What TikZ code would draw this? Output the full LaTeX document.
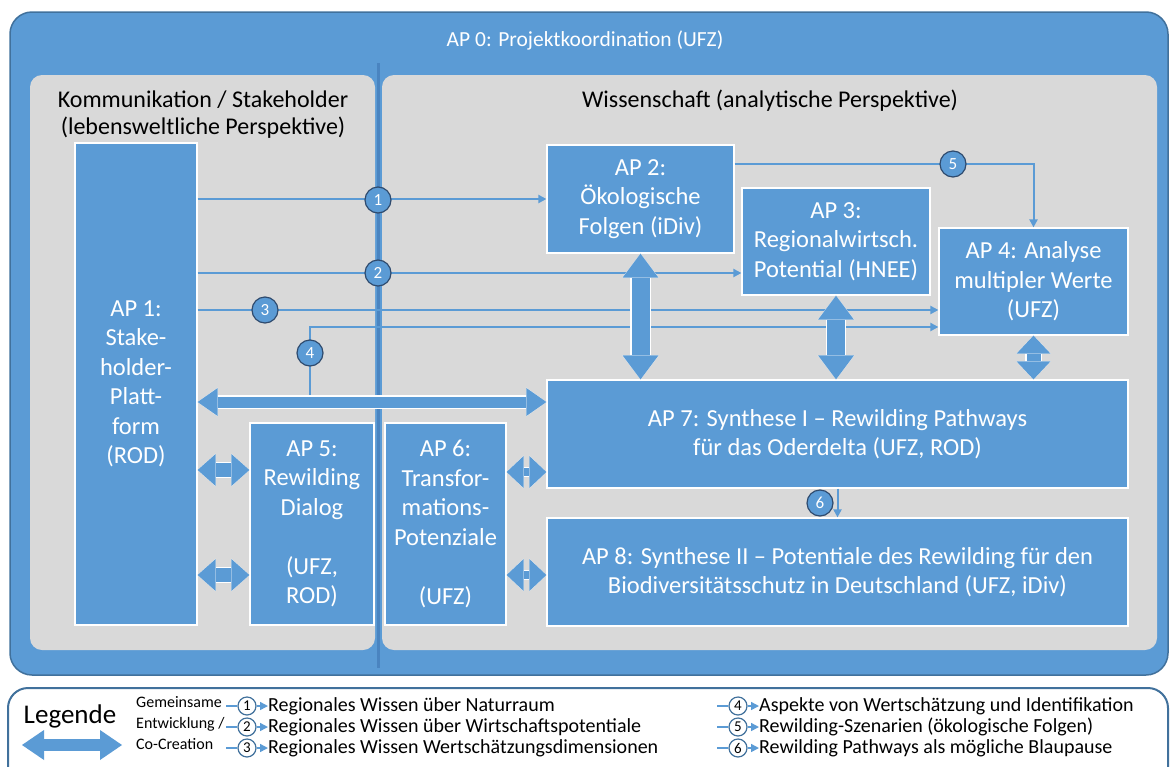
\documentclass[tikz,border=0pt]{standalone}
\usepackage{fontspec}
\setmainfont{Carlito}
\usetikzlibrary{arrows.meta,calc,positioning}

\definecolor{apblue}{HTML}{5B9BD5}
\definecolor{apedge}{HTML}{41719C}
\definecolor{panelgray}{HTML}{D9D9D9}
\definecolor{divline}{HTML}{4A84C0}
\definecolor{ringnavy}{HTML}{2F4B6E}

\tikzset{
	apbox/.style={fill=apblue, draw=white, line width=1.2pt, text=white, align=center, inner sep=0pt, font=\fontsize{24.5}{29.5}\selectfont},
	headtext/.style={align=center, font=\fontsize{24}{27}\selectfont},
	flow/.style={draw=apblue, line width=2pt, -{Triangle[width=8pt,length=8pt]}},
	numring/.style={circle, fill=apblue, draw=ringnavy, line width=1.2pt, minimum size=26pt, inner sep=0pt, text=white, font=\fontsize{17}{17}\selectfont},
	legring/.style={circle, fill=white, draw=apedge, line width=1.2pt, minimum size=18pt, inner sep=0pt, font=\fontsize{15}{15}\selectfont},
	legtext/.style={anchor=west, inner sep=0pt, font=\fontsize{20}{20}\selectfont},
	cocreate/.style n args={3}{draw=apblue, line width=#1pt,
		{Triangle[width=#2pt,length=#3pt,line width=0pt]}-{Triangle[width=#2pt,length=#3pt,line width=0pt]},
		preaction={draw=white, line width=#1pt+2.4pt,
			{Triangle[width=#2pt,length=#3pt,line width=2.4pt,fill=white]}-{Triangle[width=#2pt,length=#3pt,line width=2.4pt,fill=white]}}}
}

\begin{document}
\begin{tikzpicture}[x=1pt, y=-1pt]
	\useasboundingbox (0,0) rectangle (1170,766);
	% frame and panels
	\fill[apblue, draw=apedge, line width=1.5pt, rounded corners=22pt] (10,12) rectangle (1168,675);
	\node[text=white, font=\fontsize{21.5}{21.5}\selectfont] (ap0) at (585,40) {AP 0: Projektkoordination (UFZ)};
	\fill[panelgray, rounded corners=12pt] (30,75) rectangle (375,650);
	\fill[panelgray, rounded corners=12pt] (382,75) rectangle (1157,650);
	\draw[divline, line width=3pt] (378,63) -- (378,668);
	\node[headtext] (komm) at (203,114.5) {Kommunikation / Stakeholder\\(lebensweltliche Perspektive)};
	\node[headtext] (wiss) at (770,101) {Wissenschaft (analytische Perspektive)};
	%%%%% work packages
	\node[apbox, minimum width=122pt, minimum height=482pt] (ap1) at (136,384) {AP 1:\\Stake-\\holder-\\Platt-\\form\\(ROD)};
	\node[apbox, minimum width=187pt, minimum height=108pt] (ap2) at (640.5,199) {AP 2:\\Ökologische\\Folgen (iDiv)};
	\node[apbox, minimum width=188pt, minimum height=107pt] (ap3) at (836,241.5) {AP 3:\\Regionalwirtsch.\\Potential (HNEE)};
	\node[apbox, minimum width=189pt, minimum height=107pt] (ap4) at (1033.5,281.5) {AP 4: Analyse\\multipler Werte\\(UFZ)};
	\node[apbox, minimum width=124pt, minimum height=202pt] (ap5) at (312,524) {AP 5:\\Rewilding\\Dialog\\~\\(UFZ,\\ROD)};
	\node[apbox, minimum width=121pt, minimum height=202pt] (ap6) at (445.5,524) {AP 6:\\Transfor-\\mations-\\Potenziale\\~\\(UFZ)};
	\node[apbox, minimum width=581pt, minimum height=108pt] (ap7) at (837.5,434) {AP 7: Synthese I -- Rewilding Pathways\\für das Oderdelta (UFZ, ROD)};
	\node[apbox, minimum width=581pt, minimum height=108pt] (ap8) at (837.5,572) {AP 8: Synthese II -- Potentiale des Rewilding für den\\Biodiversitätsschutz in Deutschland (UFZ, iDiv)};
	%%%%% knowledge flows
	\coordinate (k4) at (310,402);
	\draw[flow] (ap1.east |- ap2.west) -- (ap2.west);
	\draw[flow] (ap1.east |- 0,273) -- (ap3.west |- 0,273);
	\draw[flow] (ap1.east |- 0,310) -- (ap4.west |- 0,310);
	\draw[flow] (k4) |- (ap4.west |- 0,327);
	\draw[flow] (ap2.east |- 0,164) -| (ap4.north);
	\draw[flow] (ap7.south) -- (ap8.north);
	%%%%% co-creation
	\draw[cocreate={11}{28}{20}] (ap1.east |- k4) -- (ap7.west |- k4);
	\draw[cocreate={14}{32}{18}] (ap1.east |- 0,470) -- (ap5.west |- 0,470);
	\draw[cocreate={14}{32}{18}] (ap1.east |- 0,575) -- (ap5.west |- 0,575);
	\draw[cocreate={8}{32}{17}] (ap6.east |- 0,472) -- (ap7.west |- 0,472);
	\draw[cocreate={8}{32}{17}] (ap6.east |- 0,575) -- (ap8.west |- 0,575);
	\draw[cocreate={18}{36}{24}] (ap2.south) -- (ap7.north -| ap2.south);
	\draw[cocreate={18}{36}{24}] (ap3.south) -- (ap7.north -| ap3.south);
	\draw[cocreate={14}{34}{18}] (ap4.south) -- (ap7.north -| ap4.south);
	%%%%% numbers
	\node[numring] (n1) at (378,200) {1};
	\node[numring] (n2) at (378,273) {2};
	\node[numring] (n3) at (265,310) {3};
	\node[numring] (n4) at (310,353) {4};
	\node[numring] (n5) at (953,164) {5};
	\node[numring] (n6) at (820,503) {6};
	%%%%% legend
	\draw[apedge, line width=2pt, rounded corners=20pt, fill=white] (8,688) rectangle (1168,800);
	\node[font=\fontsize{27}{27}\selectfont] (leg) at (70,716) {Legende};
	\coordinate (la) at (22,745);
	\coordinate (lb) at (122,745);
	\draw[cocreate={12}{30}{22}] (la) -- (lb);
	\node[anchor=north west, inner sep=0pt, align=left, font=\fontsize{16}{21}\selectfont] (cocr) at (136,696) {Gemeinsame\\Entwicklung /\\Co-Creation};
	\node[legring] (l1) at (247,706) {1};
	\node[legring] (l2) at (247,727) {2};
	\node[legring] (l3) at (247,748) {3};
	\node[legring] (l4) at (738,706) {4};
	\node[legring] (l5) at (738,727) {5};
	\node[legring] (l6) at (738,748) {6};
	\draw[apblue, line width=1.5pt] (l1.west) -- ++(-11,0);
	\draw[apblue, line width=1.5pt] (l2.west) -- ++(-11,0);
	\draw[apblue, line width=1.5pt] (l3.west) -- ++(-11,0);
	\draw[apblue, line width=1.5pt] (l4.west) -- ++(-11,0);
	\draw[apblue, line width=1.5pt] (l5.west) -- ++(-11,0);
	\draw[apblue, line width=1.5pt] (l6.west) -- ++(-11,0);
	\node[legtext] (t1) at (268,706) {Regionales Wissen über Naturraum};
	\node[legtext] (t2) at (268,727) {Regionales Wissen über Wirtschaftspotentiale};
	\node[legtext] (t3) at (268,748) {Regionales Wissen Wertschätzungsdimensionen};
	\node[legtext] (t4) at (759,706) {Aspekte von Wertschätzung und Identifikation};
	\node[legtext] (t5) at (759,727) {Rewilding-Szenarien (ökologische Folgen)};
	\node[legtext] (t6) at (759,748) {Rewilding Pathways als mögliche Blaupause};
	\draw[flow, line width=1.5pt] (l1.east) -- (t1.west);
	\draw[flow, line width=1.5pt] (l2.east) -- (t2.west);
	\draw[flow, line width=1.5pt] (l3.east) -- (t3.west);
	\draw[flow, line width=1.5pt] (l4.east) -- (t4.west);
	\draw[flow, line width=1.5pt] (l5.east) -- (t5.west);
	\draw[flow, line width=1.5pt] (l6.east) -- (t6.west);
\end{tikzpicture}
\end{document}
